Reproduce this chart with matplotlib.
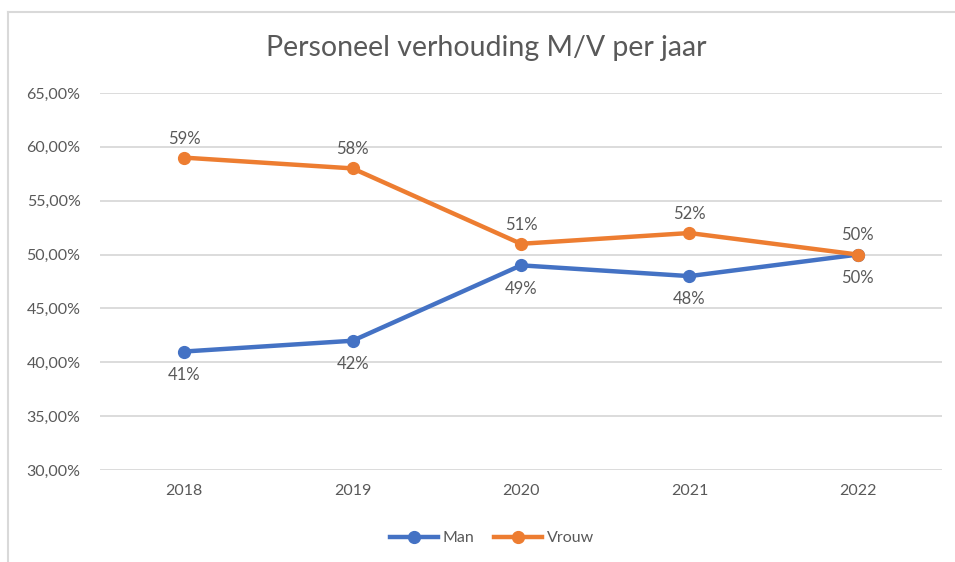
import matplotlib.pyplot as plt
from matplotlib.lines import Line2D
from matplotlib.ticker import FuncFormatter

# Data
years = ["2018", "2019", "2020", "2021", "2022"]
man = [0.41, 0.42, 0.49, 0.48, 0.50]
vrouw = [0.59, 0.58, 0.51, 0.52, 0.50]

plt.rcParams['font.family'] = ['Lato', 'DejaVu Sans']
grey = '#595959'

fig = plt.figure(figsize=(9.55, 5.62), dpi=100)
ax = fig.add_axes([100 / 955, 1 - 470 / 562, 842 / 955, 377 / 562])

x = range(len(years))
ax.plot(x, man, color='#4472C4', lw=3.2, marker='o', ms=8.5, label='Man', zorder=3)
ax.plot(x, vrouw, color='#ED7D31', lw=3.2, marker='o', ms=8.5, label='Vrouw', zorder=3)

# Data labels: Man below, Vrouw above
for i, v in enumerate(man):
    ax.annotate(f"{round(v * 100)}%", (i, v), xytext=(0, -11), textcoords='offset points',
                ha='center', va='top', fontsize=12, color=grey)
for i, v in enumerate(vrouw):
    ax.annotate(f"{round(v * 100)}%", (i, v), xytext=(0, 8), textcoords='offset points',
                ha='center', va='bottom', fontsize=12, color=grey)

ax.set_xlim(-0.5, len(years) - 0.5)
ax.set_ylim(0.30, 0.65)
ax.set_yticks([0.30 + 0.05 * k for k in range(8)])
ax.yaxis.set_major_formatter(FuncFormatter(lambda v, p: f"{v * 100:.2f}%".replace('.', ',')))
ax.set_xticks(list(x))
ax.set_xticklabels(years)
ax.tick_params(axis='both', length=0, labelsize=11.5, labelcolor=grey)
ax.tick_params(axis='y', pad=14)
ax.tick_params(axis='x', pad=10)
ax.grid(axis='y', color='#D9D9D9', lw=1.3)
ax.set_axisbelow(True)
for s in ax.spines.values():
    s.set_visible(False)

fig.text(486 / 955, 1 - 48 / 562, "Personeel verhouding M/V per jaar", ha='center', va='center',
         fontsize=20.5, color=grey)

fig.legend(loc='center', bbox_to_anchor=(492 / 955, 1 - 538 / 562), ncol=2, frameon=False,
           fontsize=11.5, labelcolor=grey, handlelength=3, columnspacing=1.2, handletextpad=0.3)

# Chart border (top and left visible)
fig.add_artist(Line2D([8 / 955, 1], [1 - 12 / 562, 1 - 12 / 562], color='#D9D9D9', lw=1.5,
                      transform=fig.transFigure))
fig.add_artist(Line2D([8 / 955, 8 / 955], [0, 1 - 12 / 562], color='#D9D9D9', lw=1.5,
                      transform=fig.transFigure))

fig.savefig('out.png', dpi=100)
